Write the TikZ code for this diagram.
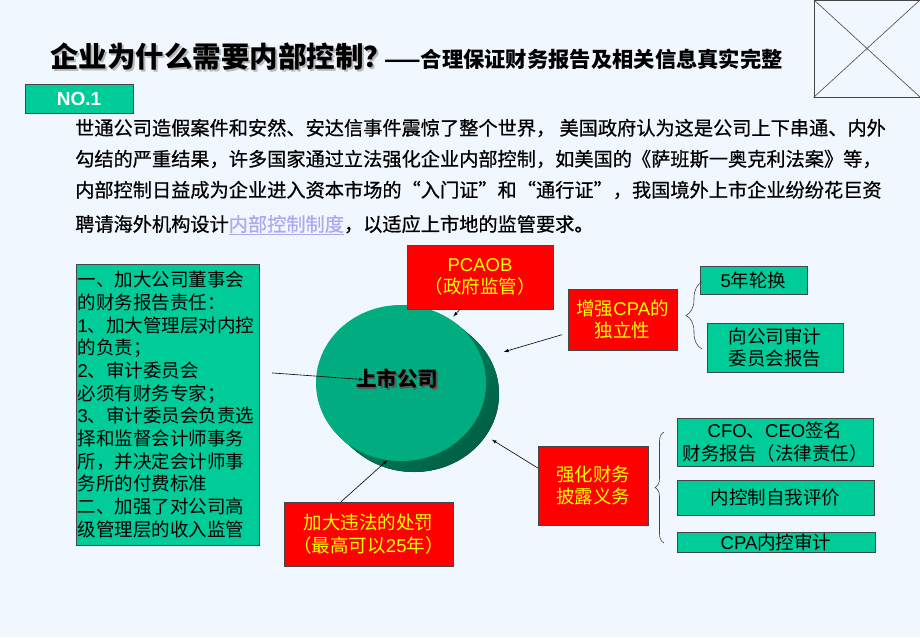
\documentclass[tikz,border=0pt]{standalone}
\usepackage{fontspec}
\setmainfont{Noto Sans CJK SC}
\newfontfamily\arialfont{Liberation Sans}
\newfontfamily\parafont[FakeBold=0.6]{Noto Sans CJK SC}
\usetikzlibrary{shapes.geometric,decorations.pathreplacing}

\definecolor{pagebg}{RGB}{240,247,255}
\definecolor{boxgreen}{RGB}{0,204,153}
\definecolor{boxred}{RGB}{255,0,0}
\definecolor{boxyellow}{RGB}{255,255,0}
\definecolor{boxline}{RGB}{70,70,70}
\definecolor{disctop}{RGB}{0,172,128}
\definecolor{discside}{RGB}{0,150,110}
\definecolor{discdark}{RGB}{0,95,68}
\definecolor{linkblue}{RGB}{170,170,240}

\newcommand{\lat}[1]{{\arialfont #1}}
\newcommand{\titlefont}{\bfseries\fontsize{28.5}{30}\selectfont}
\newcommand{\subtitlefont}{\bfseries\fontsize{21.3}{24}\selectfont}
\newcommand{\bodyfont}{\parafont\fontsize{19.2}{23}\selectfont}
\newcommand{\boxfont}{\fontsize{18.5}{22.5}\selectfont}
\newcommand{\dutyfont}{\fontsize{18.5}{22.7}\selectfont}

\begin{document}
\begin{tikzpicture}[x=1pt, y=-1pt,
		redbox/.style={draw=boxline, fill=boxred, text=boxyellow, font=\boxfont, align=center, inner sep=0pt},
		greenbox/.style={draw=boxline, fill=boxgreen, text=black, font=\boxfont, align=center, inner sep=0pt},
		arr/.style={-latex, line width=0.6pt},
		curly/.style={decorate, decoration={brace, amplitude=#1}, draw=boxline, line width=0.6pt}]
				\fill [pagebg] (0, 0) rectangle (920, 637);
				\useasboundingbox (0, 0) rectangle (920, 637);
				% \draw [step=20, gray, very thin] (0, 0) grid (920, 637);

				\node [draw=boxline, line width=0.8pt, minimum width=106pt, minimum height=97pt, inner sep=0pt] (placeholder) at (867, 48.5) {};
				\draw [boxline, line width=0.6pt] (placeholder.north west) -- (placeholder.south east) (placeholder.north east) -- (placeholder.south west);

				\node [anchor=west, inner sep=0pt, text=gray!55, font=\titlefont] (titleshadow) at (52, 59) {企业为什么需要内部控制？};
				\node [anchor=west, inner sep=0pt, font=\titlefont] (title) at (50, 57) {企业为什么需要内部控制？};
				\node [anchor=west, inner sep=0pt, font=\subtitlefont] (subtitle) at (384, 59) {——合理保证财务报告及相关信息真实完整};

				\node [draw=boxline, fill=boxgreen, text=white, font=\arialfont\bfseries\fontsize{19}{19}\selectfont, minimum width=108pt, minimum height=29pt, inner sep=0pt] (no1) at (79, 98.5) {NO.1};

				\node [anchor=west, inner sep=0pt, font=\bodyfont] (line1) at (75, 128) {世通公司造假案件和安然、安达信事件震惊了整个世界， 美国政府认为这是公司上下串通、内外};
				\node [anchor=west, inner sep=0pt, font=\bodyfont] (line2) at (75, 159) {勾结的严重结果，许多国家通过立法强化企业内部控制，如美国的《萨班斯一奥克利法案》等，};
				\node [anchor=west, inner sep=0pt, font=\bodyfont] (line3) at (75, 190) {内部控制日益成为企业进入资本市场的“入门证”和“通行证”，我国境外上市企业纷纷花巨资};
				\node [anchor=west, inner sep=0pt, font=\bodyfont] (line4) at (75, 225) {聘请海外机构设计\textcolor{linkblue}{\underline{内部控制制度}}，以适应上市地的监管要求。};

				% the listed company disc
				\foreach \k in {1, 2, ..., 12}
					\fill [discside] (401+\k, 383+0.85*\k) ellipse [x radius=85, y radius=78];
				\fill [top color=discside, bottom color=discdark, shading angle=45] (414, 394) ellipse [x radius=85, y radius=78];
				\node [ellipse, fill=disctop, minimum width=170pt, minimum height=156pt, inner sep=0pt] (company) at (401, 383) {};
				\node [inner sep=0pt, text=gray!70!black, font=\bfseries\fontsize{20.5}{20.5}\selectfont] (companyshadow) at (398.5, 380.5) {上市公司};
				\node [inner sep=0pt, font=\bfseries\fontsize{20.5}{20.5}\selectfont] (companyname) at (397, 379) {上市公司};

				\node [greenbox, align=left, text width=180pt, minimum height=281pt, inner sep=1.5pt, font=\dutyfont] (duties) at (167.5, 404.5) {一、加大公司董事会\\的财务报告责任：\\\lat{1}、加大管理层对内控\\的负责；\\\lat{2}、审计委员会\\必须有财务专家；\\\lat{3}、审计委员会负责选\\择和监督会计师事务\\所，并决定会计师事\\务所的付费标准\\二、加强了对公司高\\级管理层的收入监管};

				\node [redbox, minimum width=146pt, minimum height=64pt] (pcaob) at (480, 277) {\lat{PCAOB}\\（政府监管）};
				\node [redbox, minimum width=109pt, minimum height=61pt] (cpa) at (622.5, 319.5) {增强\lat{CPA}的\\独立性};
				\node [redbox, minimum width=110pt, minimum height=79pt] (disclose) at (593, 485.5) {强化财务\\披露义务};
				\node [redbox, minimum width=169pt, minimum height=64pt] (penalty) at (368.5, 534) {加大违法的处罚\\（最高可以\lat{25}年）};

				\node [greenbox, minimum width=107pt, minimum height=28pt] (rotate5) at (753.5, 280) {\lat{5}年轮换};
				\node [greenbox, minimum width=136pt, minimum height=49pt] (report) at (775, 347.5) {向公司审计\\委员会报告};
				\node [greenbox, minimum width=196pt, minimum height=48pt] (sign) at (775, 442) {\lat{CFO}、\lat{CEO}签名\\财务报告（法律责任）};
				\node [greenbox, minimum width=197pt, minimum height=35pt] (selfeval) at (775.5, 497.5) {内控制自我评价};
				\node [greenbox, minimum width=198pt, minimum height=20pt] (audit) at (776, 542) {\lat{CPA}内控审计};

				\draw [arr, shorten <=13pt, shorten >=-8pt] ([yshift=32.5pt]duties.east) -- (companyname.west);
				\draw [arr, shorten >=4pt] ([xshift=-20pt]pcaob.south) -- (company.52);
				\draw [arr, shorten <=6pt, shorten >=23pt] ([yshift=-13.5pt]cpa.west) -- (company.17);
				\draw [arr, shorten >=24pt] ([yshift=17.5pt]disclose.west) -- (company.-32);
				\draw [arr] ([xshift=-27.5pt]penalty.north) -- (company.-100);

				\draw [curly=16pt] (702, 349) -- (702, 282);
				\draw [curly=9pt] (664, 543) -- (664, 432);
			\end{tikzpicture}
\end{document}
